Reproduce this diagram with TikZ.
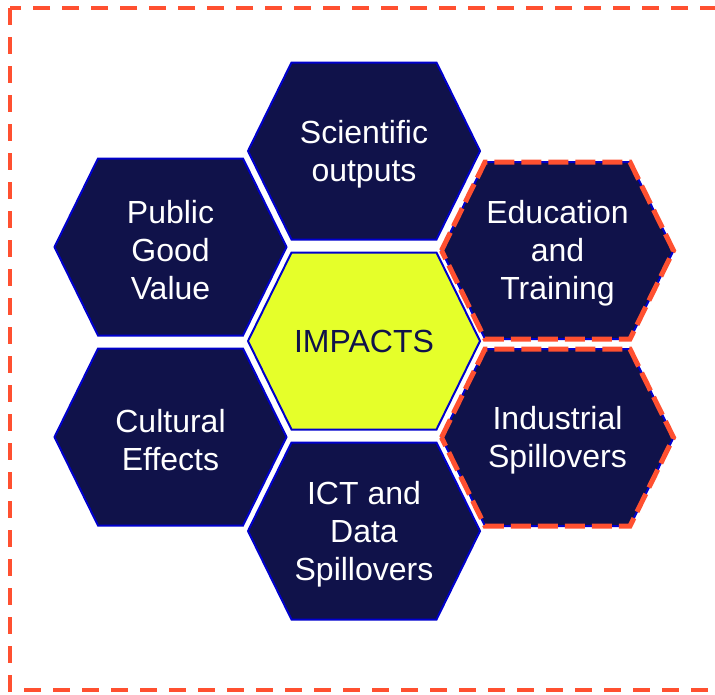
\documentclass[tikz,border=0pt]{standalone}
\usepackage{fontspec}
\setmainfont{Liberation Sans}
\usetikzlibrary{backgrounds}
\definecolor{hexnavy}{HTML}{10124A}
\definecolor{hexblue}{HTML}{0000CC}
\definecolor{impactyellow}{HTML}{E5FF2A}
\definecolor{dashorange}{HTML}{FF5030}

\newcommand{\hexagon}{(-116pt,0pt) -- (-72.5pt,88.5pt) -- (72.5pt,88.5pt) -- (116pt,0pt) -- (72.5pt,-88.5pt) -- (-72.5pt,-88.5pt) -- cycle}

\tikzstyle{hexa} = [align=center, text=white, inner sep=0pt, yshift=-3pt, font=\fontsize{32}{38}\selectfont]
\tikzstyle{core} = [align=center, text=hexnavy, inner sep=0pt, font=\fontsize{32}{38}\selectfont]
\tikzstyle{hexfill} = [fill=hexnavy, draw=hexblue, line width=2pt]
\tikzstyle{corefill} = [fill=impactyellow, draw=hexblue, line width=2pt]
\tikzstyle{orangedash} = [draw=dashorange, line width=5pt, dash pattern=on 20pt off 7pt]

\begin{document}
\begin{tikzpicture}[x=1pt, y=-1pt]
\useasboundingbox (0,0) rectangle (715,694);
\draw [draw=dashorange, line width=4pt, dash pattern=on 17pt off 12pt] (10,8) rectangle (740,690);
\node [core] (impacts) at (364,341) {IMPACTS};
\node [hexa] (sci) at (364,151) {Scientific\\outputs};
\node [hexa] (ict) at (364,531) {ICT and\\Data\\Spillovers};
\node [hexa] (pgv) at (170.5,247) {Public\\Good\\Value};
\node [hexa] (cult) at (170.5,437) {Cultural\\Effects};
\node [hexa] (edu) at (557.5,250.5) {Education\\and\\Training};
\node [hexa] (ind) at (557.5,437.5) {Industrial\\Spillovers};
\begin{pgfonlayer}{background}
\draw [corefill, shift={(impacts.center)}] \hexagon;
% text nodes sit 3pt low, so lift the cells back
\foreach \n in {sci,ict,pgv,cult,edu,ind}
  \draw [hexfill, shift={(\n.center)}, yshift=3pt] \hexagon;
\end{pgfonlayer}
\draw [orangedash, shift={(edu.center)}, yshift=3pt] \hexagon;
\draw [orangedash, shift={(ind.center)}, yshift=3pt] \hexagon;
\end{tikzpicture}
\end{document}
